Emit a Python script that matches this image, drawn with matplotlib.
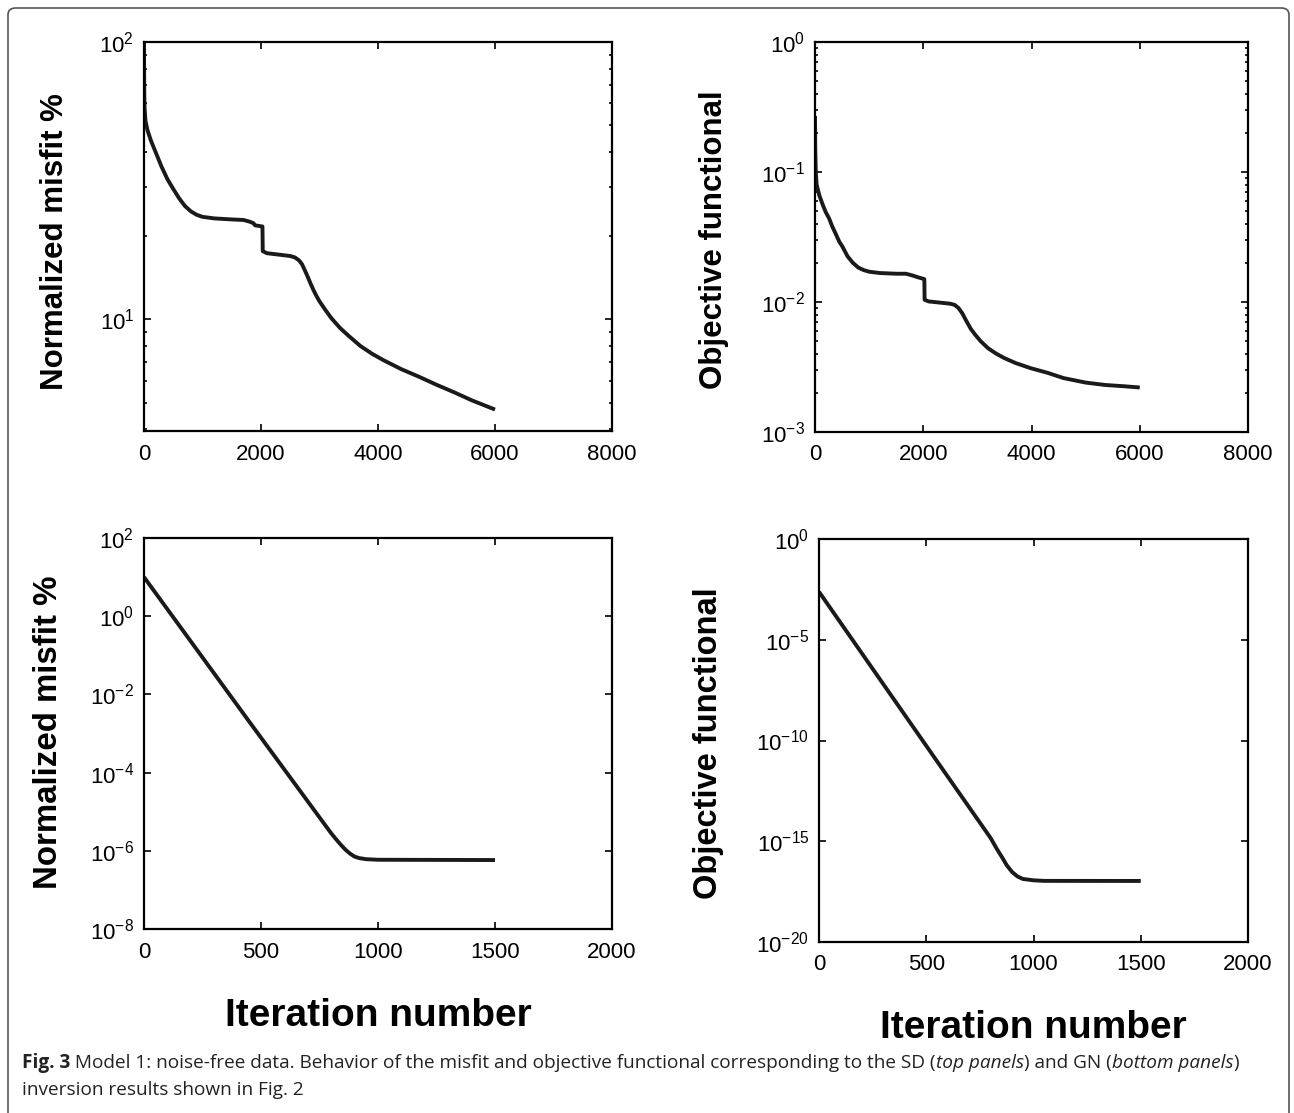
import numpy as np
import matplotlib
matplotlib.use('Agg')
import matplotlib.pyplot as plt
from matplotlib.patches import FancyBboxPatch
from matplotlib.ticker import FixedLocator, NullLocator, LogLocator, NullFormatter

plt.rcParams['font.family'] = 'Liberation Sans'
plt.rcParams['mathtext.fontset'] = 'custom'
plt.rcParams['mathtext.rm'] = 'Liberation Sans'
plt.rcParams['mathtext.it'] = 'Liberation Sans:italic'
plt.rcParams['mathtext.bf'] = 'Liberation Sans:bold'

W, H = 1294, 1113

# SD: normalized misfit (top left)
sd_mis_it = [0, 2, 5, 10, 25, 60, 120, 200, 300, 400, 500, 600, 700, 800, 900, 1000, 1200, 1500,
             1700, 1800, 1870, 1900, 2025, 2030, 2100, 2300, 2500, 2580, 2650, 2700, 2750, 2800,
             2850, 2900, 2950, 3000, 3100, 3200, 3350, 3500, 3700, 3900, 4100, 4400, 4700, 5000,
             5300, 5600, 6000]
sd_mis = [100, 80, 65, 58, 52, 48, 44, 40, 35.5, 32, 29.5, 27.3, 25.6, 24.5, 23.8, 23.4, 23.1, 22.9,
          22.8, 22.5, 22.2, 21.8, 21.6, 17.6, 17.3, 17.1, 16.9, 16.7, 16.3, 15.8, 15.0, 14.2,
          13.4, 12.7, 12.1, 11.6, 10.8, 10.1, 9.3, 8.7, 8.0, 7.5, 7.1, 6.6, 6.2, 5.8,
          5.45, 5.1, 4.72]

# SD: objective functional (top right)
sd_obj_it = [0, 5, 15, 30, 80, 150, 200, 260, 320, 375, 450, 500, 600, 700, 800, 900, 1000, 1200,
             1500, 1680, 1800, 1900, 2020, 2025, 2100, 2300, 2500, 2580, 2650, 2720, 2800, 2880,
             2960, 3060, 3200, 3350, 3500, 3700, 3980, 4300, 4590, 5000, 5360, 5700, 6000]
sd_obj = [0.27, 0.15, 0.10, 0.08, 0.066, 0.055, 0.049, 0.044, 0.038, 0.034, 0.029, 0.027, 0.0225,
          0.0200, 0.0184, 0.0176, 0.0171, 0.0167, 0.0165, 0.0165, 0.0160, 0.0155, 0.0150, 0.0104,
          0.0101, 0.0099, 0.0097, 0.0095, 0.0090, 0.0082, 0.0071, 0.0062, 0.0056, 0.0050, 0.0044,
          0.0040, 0.0037, 0.0034, 0.0031, 0.00285, 0.0026, 0.0024, 0.0023, 0.00225, 0.0022]

# GN: normalized misfit (bottom left)
gn_mis_it = [0, 450, 800, 820, 840, 860, 880, 900, 920, 950, 1000, 1500]
gn_mis = [10.0, 2.0e-3, 2.8e-6, 2.0e-6, 1.45e-6, 1.08e-6, 8.5e-7, 7.1e-7, 6.5e-7, 6.1e-7, 5.9e-7, 5.8e-7]

# GN: objective functional (bottom right)
gn_obj_it = [0, 555, 800, 830, 855, 875, 900, 925, 950, 1000, 1050, 1500]
gn_obj = [2.4e-3, 7.9e-12, 1.45e-15, 4.0e-16, 1.5e-16, 6.5e-17, 3.0e-17, 1.8e-17, 1.35e-17,
          1.15e-17, 1.08e-17, 1.07e-17]

sd_xticks = [0, 2000, 4000, 6000, 8000]
gn_xticks = [0, 500, 1000, 1500, 2000]

ylab_mis = 'Normalized misfit %'
ylab_obj = 'Objective functional'
xlab = 'Iteration number'

caption1 = [('Fig. 3', 'bold', 'normal'),
            (' Model 1: noise-free data. Behavior of the misfit and objective functional corresponding to the SD (', 'normal', 'normal'),
            ('top panels', 'normal', 'italic'),
            (') and GN (', 'normal', 'normal'),
            ('bottom panels', 'normal', 'italic'),
            (')', 'normal', 'normal')]
caption2 = [('inversion results shown in Fig. 2', 'normal', 'normal')]


def rect(l, t, r, b):
    return [l / W, 1 - b / H, (r - l) / W, (b - t) / H]


fig = plt.figure(figsize=(W / 100, H / 100), dpi=100)

# rounded frame around the figure
frame = FancyBboxPatch((8 / W, -0.05), (1289 - 8) / W, 1.05 - 8 / H,
                       boxstyle='round,pad=0,rounding_size=0.006', transform=fig.transFigure,
                       fill=False, edgecolor='#555555', linewidth=1.2)
fig.patches.append(frame)


def panel(box, x, y, xmax, xticks, ylim, ymajor, minor):
    ax = fig.add_axes(box)
    ax.semilogy(x, y, color='#1a1a1a', lw=2.8, solid_joinstyle='round', solid_capstyle='butt')
    ax.set_xlim(0, xmax)
    ax.set_ylim(*ylim)
    ax.set_xticks(xticks)
    ax.set_xticklabels([str(t) for t in xticks])
    ax.yaxis.set_major_locator(FixedLocator(ymajor))
    ax.set_yticklabels([r'$10^{%d}$' % round(np.log10(v)) for v in ymajor])
    if minor:
        ax.yaxis.set_minor_locator(LogLocator(base=10, subs=np.arange(2, 10)))
        ax.yaxis.set_minor_formatter(NullFormatter())
    else:
        ax.yaxis.set_minor_locator(NullLocator())
    ax.xaxis.set_minor_locator(NullLocator())
    ax.tick_params(which='both', direction='in', top=True, right=True, labelsize=16, width=1.2)
    ax.tick_params(axis='y', pad=7)
    ax.tick_params(axis='x', pad=9)
    ax.tick_params(which='major', length=5)
    ax.tick_params(which='minor', length=2.5)
    for s in ax.spines.values():
        s.set_linewidth(1.6)
    return ax


panel(rect(144, 42, 612, 431), sd_mis_it, sd_mis, 8000, sd_xticks, (3.95, 100), [10, 100], True)
panel(rect(815, 42, 1248, 432), sd_obj_it, sd_obj, 8000, sd_xticks, (1e-3, 1), [1e-3, 1e-2, 1e-1, 1], True)
panel(rect(144, 538, 612, 929), gn_mis_it, gn_mis, 2000, gn_xticks, (1e-8, 1e2),
      [1e-8, 1e-6, 1e-4, 1e-2, 1, 1e2], False)
panel(rect(819, 539, 1248, 942), gn_obj_it, gn_obj, 2000, gn_xticks, (1e-20, 1),
      [1e-20, 1e-15, 1e-10, 1e-5, 1], False)

# axis labels
fig.text(55 / W, 1 - 242 / H, ylab_mis, rotation=90, ha='center', va='center', fontsize=22.5, fontweight='bold')
fig.text(714 / W, 1 - 240 / H, ylab_obj, rotation=90, ha='center', va='center', fontsize=22.5, fontweight='bold')
fig.text(49 / W, 1 - 732 / H, ylab_mis, rotation=90, ha='center', va='center', fontsize=23.8, fontweight='bold')
fig.text(708 / W, 1 - 743 / H, ylab_obj, rotation=90, ha='center', va='center', fontsize=23.5, fontweight='bold')
fig.text(378 / W, 1 - 1016 / H, xlab, ha='center', va='center', fontsize=28, fontweight='bold')
fig.text(1033 / W, 1 - 1028 / H, xlab, ha='center', va='center', fontsize=28, fontweight='bold')

# caption, fitted to the original line width
renderer = fig.canvas.get_renderer()
cap_font = 'Open Sans'


def draw_line(pieces, y_px, fs, keep=True):
    x_px = 22
    made = []
    for s, wt, st in pieces:
        t = fig.text(x_px / W, 1 - y_px / H, s, ha='left', va='center', fontsize=fs,
                     fontweight=wt, fontstyle=st, family=cap_font, color='#222222')
        x_px += t.get_window_extent(renderer).width
        made.append(t)
    if not keep:
        for t in made:
            t.remove()
    return x_px - 22


w0 = draw_line(caption1, 1063, 12, keep=False)
fs = 12 * 1210 / w0
draw_line(caption1, 1063, fs)
draw_line(caption2, 1090, fs)

fig.savefig('out.png', dpi=100)
